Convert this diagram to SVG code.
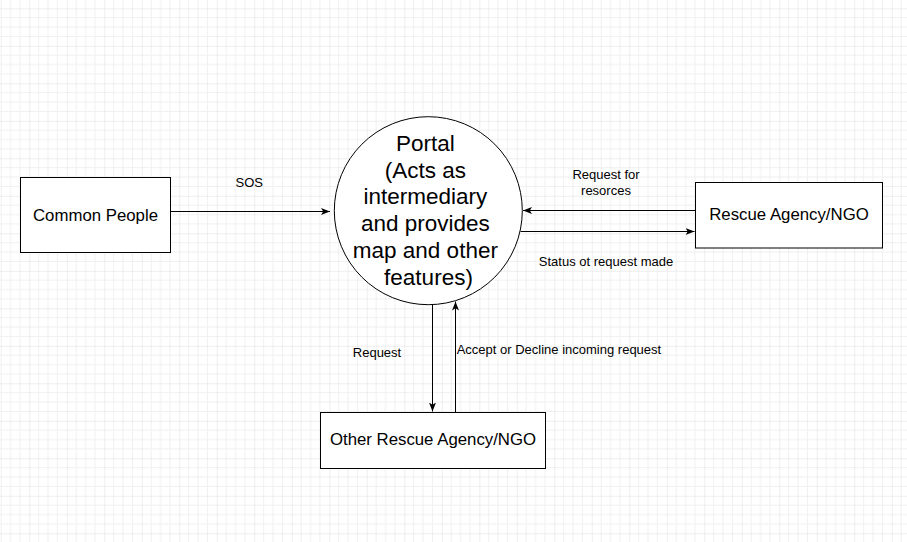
<svg xmlns="http://www.w3.org/2000/svg" width="907" height="542" viewBox="0 0 907 542">
<defs>
<pattern id="grid" patternUnits="userSpaceOnUse" x="29.3" y="8.3" width="37.5" height="37.5">
<path d="M9.375 0V37.5M18.75 0V37.5M28.125 0V37.5M0 9.375H37.5M0 18.75H37.5M0 28.125H37.5" stroke="#f0f0f0" stroke-width="1" fill="none"/>
<path d="M0 0V37.5M0 0H37.5" stroke="#dedede" stroke-width="1" fill="none"/>
</pattern>
<marker id="arr" markerUnits="userSpaceOnUse" markerWidth="10" markerHeight="8" refX="9" refY="4" orient="auto">
<path d="M0,0.5 L9,4 L0,7.5 L2.2,4 Z" fill="#000"/>
</marker>
<style>
.box{fill:#fff;stroke:#000;stroke-width:1}
.node{font-family:"Liberation Sans",Arial,sans-serif;font-size:16.8px;fill:#000;text-anchor:middle}
.big{font-family:"Liberation Sans",Arial,sans-serif;font-size:22.5px;fill:#000;text-anchor:middle}
.lbl{font-family:"Liberation Sans",Arial,sans-serif;font-size:13px;fill:#000}
.edge{stroke:#000;stroke-width:1;fill:none;marker-end:url(#arr)}
</style>
</defs>
<rect width="907" height="542" fill="#fff"/>
<rect width="907" height="542" fill="url(#grid)"/>

<g id="common-people">
<rect class="box" x="20.5" y="177.5" width="150" height="75"/>
<text class="node" x="95.5" y="220.5">Common People</text>
</g>

<g id="portal">
<circle class="box" cx="428.3" cy="210.7" r="94"/>
<text class="big" x="428.5" y="150.7">
<tspan x="428.5">Portal</tspan>
<tspan x="428.5" dy="26.86">(Acts as</tspan>
<tspan x="428.5" dy="26.86">intermediary</tspan>
<tspan x="428.5" dy="26.86">and provides</tspan>
<tspan x="428.5" dy="26.86">map and other</tspan>
<tspan x="428.5" dy="26.86">features)</tspan>
</text>
</g>

<g id="rescue-agency">
<rect class="box" x="695.5" y="182.5" width="187" height="65.5"/>
<text class="node" x="789" y="220.3">Rescue Agency/NGO</text>
</g>

<g id="other-rescue-agency">
<rect class="box" x="320.5" y="412.5" width="225" height="56"/>
<text class="node" x="433" y="445">Other Rescue Agency/NGO</text>
</g>

<g id="connectors">
<path class="edge" d="M170.5 211.5H330"/>
<path class="edge" d="M695 210.5H523"/>
<path class="edge" d="M520.5 231.5H694.5"/>
<path class="edge" d="M432.5 304.5V411.5"/>
<path class="edge" d="M455.5 412V301.5"/>
<text class="lbl" x="249.3" y="187" text-anchor="middle">SOS</text>
<text class="lbl" x="606" y="179" text-anchor="middle">Request for</text>
<text class="lbl" x="606" y="194.7" text-anchor="middle">resorces</text>
<text class="lbl" x="606" y="266.3" text-anchor="middle">Status ot request made</text>
<text class="lbl" x="377" y="356.7" text-anchor="middle">Request</text>
<text class="lbl" x="456.7" y="354">Accept or Decline incoming request</text>
</g>
</svg>
